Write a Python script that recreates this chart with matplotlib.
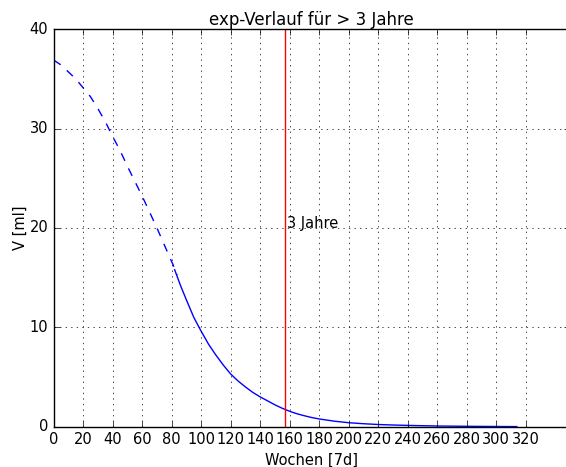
import numpy as np
import matplotlib

matplotlib.use("Agg")
import matplotlib.pyplot as plt

weeks_meas = [0, 5, 10, 15, 20, 25, 30, 35, 40, 45, 50, 55, 60, 65, 70, 75, 80, 84]
vol_meas = [36.9, 36.4, 35.7, 35.0, 34.1, 33.2, 32.0, 30.7, 29.2, 27.8, 26.2,
            24.7, 23.2, 21.6, 20.0, 18.3, 16.6, 15.3]

weeks_fit = [82, 86, 90, 95, 100, 105, 110, 115, 120, 125, 130, 135, 140, 145, 150,
             155, 160, 165, 170, 175, 180, 190, 200, 210, 220, 230, 240, 250, 260,
             270, 280, 290, 300, 314]
vol_fit = [15.8, 14.2, 12.75, 11.0, 9.6, 8.3, 7.2, 6.2, 5.3, 4.6, 4.0, 3.45, 3.0,
           2.6, 2.2, 1.85, 1.55, 1.3, 1.1, 0.92, 0.78, 0.56, 0.4, 0.3, 0.22, 0.17,
           0.13, 0.1, 0.07, 0.055, 0.04, 0.03, 0.02, 0.01]

three_years = 3 * 365.25 / 7

plt.style.use("classic")
plt.rcParams["font.family"] = ["DejaVu Sans"]

fig = plt.figure(figsize=(5.66, 4.67), dpi=100, facecolor="white")
ax = fig.add_axes([0.0949, 0.0863, 0.912, 0.851])
ax.set_facecolor("white")

ax.plot(weeks_meas, vol_meas, "b--", lw=1)
ax.plot(weeks_fit, vol_fit, "b-", lw=1)
ax.axvline(three_years, color="r", lw=1)
ax.text(three_years + 1.5, 20, "3 Jahre", fontsize=10.5)

ax.set_xlim(0, 350)
ax.set_ylim(0, 40)
ax.set_xticks(np.arange(0, 321, 20))
ax.set_yticks([0, 10, 20, 30, 40])
ax.tick_params(labelsize=10.5)
ax.grid(True)

ax.set_xlabel("Wochen [7d]", fontsize=10.5, labelpad=4)
ax.set_ylabel("V [ml]", fontsize=10.5, labelpad=1)
ax.set_title("exp-Verlauf für > 3 Jahre", fontsize=12, pad=3)

fig.savefig("out.png", dpi=100, facecolor="white")
